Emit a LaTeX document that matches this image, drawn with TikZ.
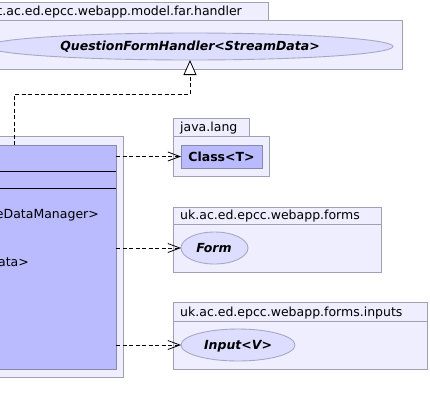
\documentclass[tikz,border=0pt]{standalone}
\usepackage{fontspec}
\setmainfont{DejaVu Sans}
\usetikzlibrary{arrows.meta,shapes.geometric}
\definecolor{pkgfill}{HTML}{EEEEFF}
\definecolor{pkgline}{HTML}{A0A0B4}
\definecolor{clsfill}{HTML}{BABAFF}
\definecolor{clsline}{HTML}{8888A8}
\definecolor{elfill}{HTML}{DDDDFF}
\definecolor{elline}{HTML}{A8A8C4}
\tikzset{
  box/.style={draw=pkgline, fill=pkgfill, line width=0.9pt, inner sep=0pt, outer sep=0pt, anchor=north west},
  clsbox/.style={draw=clsline, fill=clsfill, line width=0.9pt, inner sep=0pt, outer sep=0pt, anchor=north west},
  iface/.style={ellipse, draw=elline, fill=elfill, line width=0.9pt, inner sep=0pt, outer sep=0pt},
  lbl/.style={inner sep=0pt, font=\fontsize{12.5}{14}\selectfont},
  blbl/.style={inner sep=0pt, font=\fontsize{12.5}{14}\selectfont\bfseries},
  ilbl/.style={inner sep=0pt, font=\fontsize{12.5}{14}\selectfont\bfseries\itshape},
  dep/.style={draw=black, line width=0.8pt, dash pattern=on 4pt off 2.5pt, -{Straight Barb[length=12pt,width=9pt,line width=0.8pt]}},
  real/.style={draw=black, line width=0.8pt, dash pattern=on 4pt off 2.5pt, -{Triangle[open,length=15pt,width=13pt,line width=0.8pt,fill=white]}},
  sep/.style={draw=black, line width=0.9pt}
}
\begin{document}
\begin{tikzpicture}[x=1pt,y=-1pt]
\useasboundingbox (0,0) rectangle (430,415);
\clip (0,0) rectangle (430,415);
% top package
\node[box, minimum width=278pt, minimum height=18pt] (toptab) at (-10,2) {};
\node[box, minimum width=412pt, minimum height=49pt] (topbody) at (-10,20) {};
\node[lbl, anchor=base east] (toplbl) at (242,15) {t.ac.ed.epcc.webapp.model.far.handler};
\node[iface, minimum width=406pt, minimum height=27pt] (qfh) at (190,46.5) {};
\node[ilbl, anchor=base] (qfhlbl) at (190,50.5) {QuestionFormHandler<StreamData>};
% java.lang
\node[box, minimum width=76pt, minimum height=18pt] (jltab) at (173,118) {};
\node[box, minimum width=96pt, minimum height=40pt] (jlbody) at (173,136) {};
\node[lbl, anchor=base west] (jllbl) at (180,131.5) {java.lang};
\node[clsbox, minimum width=81pt, minimum height=23pt] (clsT) at (181,145) {};
\node[blbl, anchor=base] (clsTlbl) at (221.5,161) {Class<T>};
% left package and class
\node[box, minimum width=133pt, minimum height=241pt] (leftpkg) at (-10,136) {};
\node[clsbox, minimum width=126pt, minimum height=224pt] (cls) at (-10,145) {};
\coordinate (s1l) at (-10,171.5); \coordinate (s1r) at (116,171.5);
\coordinate (s2l) at (-10,188.5); \coordinate (s2r) at (116,188.5);
\draw[sep] (s1l) -- (s1r);
\draw[sep] (s2l) -- (s2r);
\node[lbl, anchor=base east] (m1) at (99,218) {eDataManager>};
\node[lbl, anchor=base east] (m2) at (29,266) {ata>};
% forms package
\node[box, minimum width=208pt, minimum height=65pt] (forms) at (173,207) {};
\coordinate (f1l) at (173,224); \coordinate (f1r) at (381,224);
\draw[draw=pkgline, line width=0.9pt] (f1l) -- (f1r);
\node[lbl, anchor=base west] (formslbl) at (180,219.5) {uk.ac.ed.epcc.webapp.forms};
\node[iface, minimum width=67pt, minimum height=32pt] (form) at (214.5,248) {};
\node[ilbl, anchor=base] (formlbl) at (214,252.5) {Form};
% inputs package
\node[box, minimum width=254pt, minimum height=67pt] (inputs) at (173,302) {};
\coordinate (i1l) at (173,321); \coordinate (i1r) at (427,321);
\draw[draw=pkgline, line width=0.9pt] (i1l) -- (i1r);
\node[lbl, anchor=base west] (inputslbl) at (180,316) {uk.ac.ed.epcc.webapp.forms.inputs};
\node[iface, minimum width=114pt, minimum height=32pt] (inp) at (238,345) {};
\node[ilbl, anchor=base] (inplbl) at (238,349.5) {Input<V>};
% connectors
\draw[dep] (clsT.west -| cls.east) -- (clsT.west);
\draw[dep] (form.west -| cls.east) -- (form.west);
\draw[dep] (inp.west -| cls.east) -- (inp.west);
\coordinate (r0) at (14,145);
\coordinate (r1) at (14,94);
\draw[real] (r0) -- (r1) -| (qfh.south);
\end{tikzpicture}
\end{document}
